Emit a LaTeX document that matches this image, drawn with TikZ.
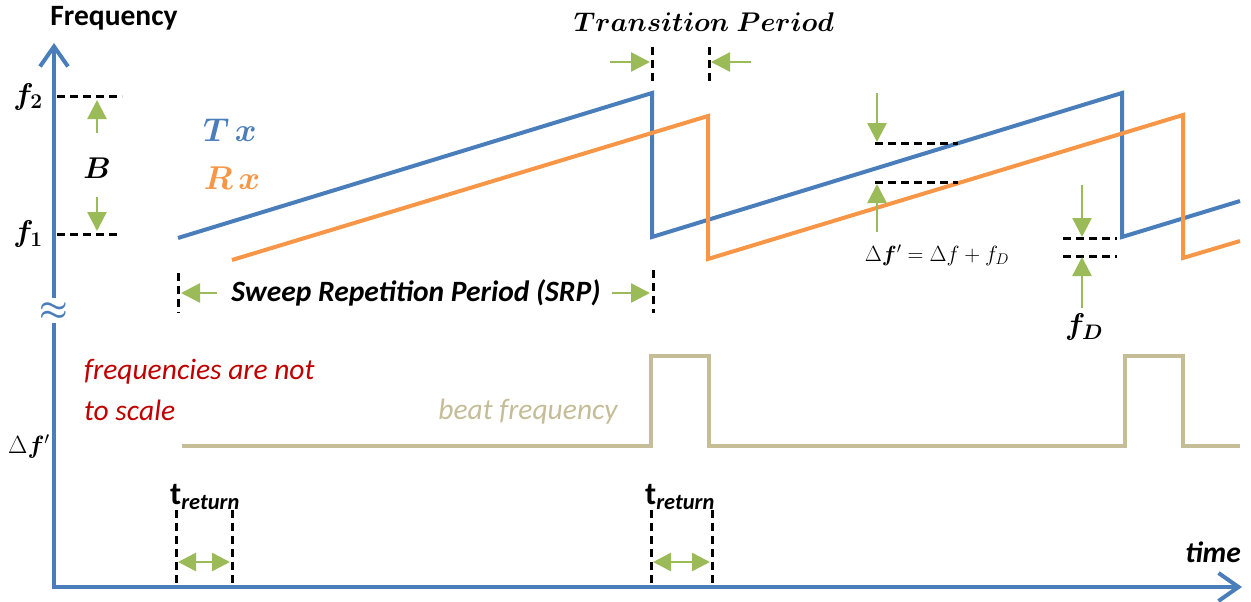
\RequirePackage{fix-cm}
\documentclass[tikz,border=0pt]{standalone}
\usepackage{amsmath,bm}
\usepackage{fontspec}
\newfontfamily\calib{Carlito}
\usetikzlibrary{arrows.meta}
\definecolor{txblue}{RGB}{74,126,187}
\definecolor{rxorange}{RGB}{247,150,70}
\definecolor{grn}{RGB}{155,187,89}
\definecolor{tan}{RGB}{196,189,151}
\definecolor{redtxt}{RGB}{192,0,0}
\tikzset{
  axisline/.style={draw=txblue, line width=4pt, line join=miter},
  axistip/.style={-{Straight Barb[length=20pt,width=28pt,line width=4pt]}},
  sig/.style={line width=4pt, line join=miter},
  dsh/.style={draw=black, line width=3pt, dash pattern=on 8pt off 5pt},
  garrow/.style={draw=grn, line width=2.5pt, -{Triangle[length=19pt,width=19pt,fill=grn]}},
  gdouble/.style={draw=grn, line width=2.5pt, {Triangle[length=18pt,width=18pt,fill=grn]}-{Triangle[length=18pt,width=18pt,fill=grn]}},
  sans/.style={font=\calib\fontsize{29.5}{34}\selectfont, inner sep=0pt},
  mathlbl/.style={font=\fontsize{30}{34}\selectfont, inner sep=0pt},
}
\begin{document}
\begin{tikzpicture}[x=1pt,y=-1pt]
\useasboundingbox (0,0) rectangle (1251,602);

% axes
\coordinate (O) at (54,587);
\coordinate (ytop) at (54,43);
\coordinate (brkA) at (54,298);
\coordinate (brkB) at (54,323);
\coordinate (xend) at (1242,587);
\draw[axisline, axistip] (brkA) -- (ytop);
\draw[axisline, axistip] (brkB) -- (O) -- (xend);
\node[inner sep=0pt, text=txblue, font=\fontsize{32}{32}\selectfont\boldmath] (brk) at (54,311) {$\approx$};

% labels on axes
\node[sans, font=\calib\bfseries\fontsize{29.5}{34}\selectfont] (freq) at (114,18) {Frequency};
\node[sans, font=\calib\bfseries\itshape\fontsize{29.5}{34}\selectfont] (time) at (1213,552) {time};
\node[mathlbl] (f2) at (28,97) {$\boldsymbol{f_{2}}$};
\node[mathlbl] (f1) at (28,234) {$\boldsymbol{f_{1}}$};
\node[inner sep=0pt, font=\fontsize{25}{28}\selectfont, anchor=west] (dfl) at (8,447) {$\Delta\boldsymbol{f}'$};

% bandwidth markers
\draw[dsh] (57,97) -- (122,97);
\draw[dsh] (57,234) -- (120,234);
\draw[garrow] (97,133) -- (97,100);
\draw[garrow] (97,197) -- (97,231);
\node[mathlbl] (B) at (97,168) {$\boldsymbol{B}$};

% Tx and Rx signals
\draw[sig, txblue] (178,238) -- (652,93) -- (652,237) -- (1122,93) -- (1122,237) -- (1240,201);
\draw[sig, rxorange] (232,260) -- (708,116) -- (708,259) -- (1183,115) -- (1183,258) -- (1240,241);
\node[inner sep=0pt, text=txblue, font=\fontsize{33}{36}\selectfont] (tx) at (230,130) {$\boldsymbol{T\,x}$};
\node[inner sep=0pt, text=rxorange, font=\fontsize{33}{36}\selectfont] (rx) at (232,178) {$\boldsymbol{R\,x}$};

% transition period
\node[inner sep=0pt, font=\fontsize{27}{30}\selectfont] (trans) at (704,22) {$\boldsymbol{Transition\;Period}$};
\draw[dsh] (652,47) -- (652,82);
\draw[dsh] (709,47) -- (709,82);
\draw[garrow] (610,62) -- (650,62);
\draw[garrow] (751,62) -- (711,62);

% delta f' markers
\draw[dsh] (875,143) -- (958,143);
\draw[dsh] (875,182) -- (958,182);
\draw[garrow] (877,93) -- (877,142);
\draw[garrow] (877,232) -- (877,184);
\node[inner sep=0pt, font=\fontsize{22}{26}\selectfont] (dfeq) at (937,255) {$\Delta\boldsymbol{f}'=\Delta f+f_D$};

% fD markers
\draw[dsh] (1063,238) -- (1117,238);
\draw[dsh] (1063,256) -- (1117,256);
\draw[garrow] (1082,185) -- (1082,237);
\draw[garrow] (1082,308) -- (1082,257);
\node[mathlbl] (fD) at (1084,327) {$\boldsymbol{f_D}$};

% SRP
\draw[dsh] (178,273) -- (178,313);
\draw[dsh] (653,270) -- (653,313);
\draw[garrow] (217,293) -- (181,293);
\draw[garrow] (612,293) -- (650,293);
\node[sans, font=\calib\bfseries\itshape\fontsize{29.5}{34}\selectfont] (srp) at (416,293) {Sweep Repetition Period (SRP)};

% beat frequency
\draw[sig, tan] (182,446) -- (651,446) -- (651,356) -- (709,356) -- (709,446) -- (1125,446) -- (1125,356) -- (1183,356) -- (1183,446) -- (1240,446);
\node[sans, font=\calib\itshape\fontsize{29.5}{34}\selectfont, text=tan] (beat) at (528,412) {beat frequency};
\node[sans, font=\calib\itshape\fontsize{29.5}{34}\selectfont, text=redtxt, anchor=west] (nts1) at (84,372) {frequencies are not};
\node[sans, font=\calib\itshape\fontsize{29.5}{34}\selectfont, text=redtxt, anchor=west] (nts2) at (84,410) {to scale};

% t_return
\draw[dsh] (176,510) -- (176,587);
\draw[dsh] (232,510) -- (232,587);
\draw[dsh] (651,510) -- (651,587);
\draw[dsh] (712,510) -- (712,587);
\draw[gdouble] (178,562) -- (230,562);
\draw[gdouble] (653,562) -- (710,562);
\node[sans, font=\calib\bfseries\fontsize{32}{36}\selectfont] (tr1) at (205,497) {t\textsubscript{\itshape return}};
\node[sans, font=\calib\bfseries\fontsize{32}{36}\selectfont] (tr2) at (680,497) {t\textsubscript{\itshape return}};
\end{tikzpicture}
\end{document}
